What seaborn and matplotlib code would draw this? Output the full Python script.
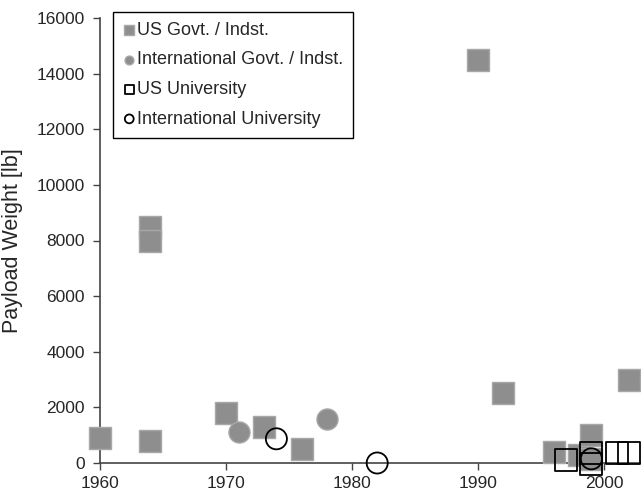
import matplotlib
matplotlib.use("Agg")
import matplotlib.pyplot as plt
import seaborn as sns
import pandas as pd

sns.set_style("ticks")
plt.rcParams['font.family'] = ['Liberation Sans', 'DejaVu Sans']

us_gov_year = [1960, 1964, 1964, 1964, 1970, 1973, 1976, 1990, 1992, 1996, 1998, 1999, 1999, 2002]
us_gov_wt = [900, 800, 8500, 8000, 1800, 1300, 500, 14500, 2500, 400, 300, 1000, 150, 3000]

intl_gov_year = [1971, 1978]
intl_gov_wt = [1100, 1600]

us_uni_year = [1997, 1999, 1999, 2001, 2002]
us_uni_wt = [100, 350, -50, 350, 350]

intl_uni_year = [1974, 1982, 1999]
intl_uni_wt = [870, 0, 150]

labels = ["US Govt. / Indst.", "International Govt. / Indst.", "US University", "International University"]
x_ticks = [1960, 1970, 1980, 1990, 2000]
y_ticks = [0, 2000, 4000, 6000, 8000, 10000, 12000, 14000, 16000]

fig = plt.figure(figsize=(6.41, 4.99), dpi=100)
ax = fig.add_axes([100/641, 1 - 463/499, 541.8/641, 445/499])

gray = "#8e8e8e"
edge = "#a8a8a8"

sns.scatterplot(x=us_gov_year, y=us_gov_wt, marker="s", s=250, color=gray,
                edgecolor=edge, linewidth=1.0, label=labels[0], ax=ax, clip_on=False, zorder=3)
sns.scatterplot(x=intl_gov_year, y=intl_gov_wt, marker="o", s=230, color=gray,
                edgecolor=edge, linewidth=1.0, label=labels[1], ax=ax, clip_on=False, zorder=3)
sns.scatterplot(x=us_uni_year, y=us_uni_wt, marker="s", s=250, facecolor="none",
                edgecolor="black", linewidth=1.3, label=labels[2], ax=ax, clip_on=False, zorder=4)
sns.scatterplot(x=intl_uni_year, y=intl_uni_wt, marker="o", s=230, facecolor="none",
                edgecolor="black", linewidth=1.3, label=labels[3], ax=ax, clip_on=False, zorder=4)

ax.set_xlim(1960, 2003)
ax.set_ylim(0, 16000)
ax.set_xticks(x_ticks)
ax.set_yticks(y_ticks)
ax.set_xticklabels([str(t) for t in x_ticks])
ax.set_yticklabels([str(t) for t in y_ticks])
ax.set_ylabel("Payload Weight [lb]", fontsize=15.5, labelpad=10)
ax.set_xlabel("")
for s in ["top", "right"]:
    ax.spines[s].set_visible(False)
for s in ["left", "bottom"]:
    ax.spines[s].set_color("#444444")
    ax.spines[s].set_linewidth(1.2)
ax.tick_params(axis="both", labelsize=12.5, length=5, width=1, color="#444444")
ax.tick_params(axis="x", pad=4.5)
ax.tick_params(axis="y", pad=6)

leg = ax.legend(loc="upper left", bbox_to_anchor=(0.024, 1.014), frameon=True,
                fancybox=False, edgecolor="black", fontsize=13, markerscale=0.42,
                handletextpad=0.1, handlelength=0.7, borderpad=0.55, labelspacing=0.7,
                borderaxespad=0)
leg.get_frame().set_linewidth(1.0)
leg.get_frame().set_alpha(1)

fig.savefig("out.png", dpi=100)
